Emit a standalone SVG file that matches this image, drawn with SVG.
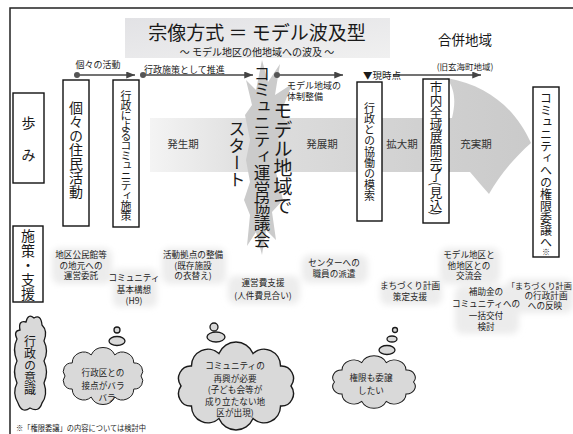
<svg xmlns="http://www.w3.org/2000/svg" width="573" height="434" viewBox="0 0 573 434">
<style>
text { font-family: 'Noto Sans CJK JP','Noto Sans CJK SC',sans-serif; fill:#1a1a1a; }
.v { writing-mode: vertical-rl; text-orientation: mixed; dominant-baseline: central; }
.box { fill:#fff; stroke:#111; stroke-width:1.4; }
.cloud { fill:#d9d9d9; stroke:#1a1a1a; stroke-width:1.3; }
.s { font-size:8.6px; text-anchor:middle; fill:#222; }
.per { font-size:10.5px; text-anchor:middle; fill:#333; }
.lbl { font-size:9px; fill:#222; }
.conn { stroke:#444; stroke-width:1.3; fill:none; }
.dot { fill:#555; }
.bg { fill:#ececec; }
.frame { stroke:#222; stroke-width:1.5; fill:none; }
</style>
<defs>
  <linearGradient id="band" gradientUnits="userSpaceOnUse" x1="150" y1="0" x2="531" y2="0">
    <stop offset="0" stop-color="#f4f4f4"/>
    <stop offset="0.25" stop-color="#dfdfdf"/>
    <stop offset="0.7" stop-color="#d1d1d1"/>
    <stop offset="1" stop-color="#cacaca"/>
  </linearGradient>
  <linearGradient id="title" x1="0" y1="0" x2="1" y2="1">
    <stop offset="0" stop-color="#e2e2e5"/>
    <stop offset="1" stop-color="#f0f0f0"/>
  </linearGradient>
  <marker id="ah" markerUnits="userSpaceOnUse" markerWidth="9" markerHeight="7" viewBox="0 0 10 8" refX="10" refY="4" orient="auto">
    <path d="M0,0 L10,4 L0,8 z" fill="#444"/>
  </marker>
  <filter id="blur" x="-20%" y="-20%" width="140%" height="140%"><feGaussianBlur stdDeviation="3"/></filter>
  <path id="cloudShape" d="M50,0 A11,11 0 0 1 40.5,17.6 A15,15 0 0 1 15.5,28.5 A17,17 0 0 1 -15.5,28.5 A15,15 0 0 1 -40.5,17.6 A11,11 0 0 1 -50,0 A11,11 0 0 1 -40.5,-17.6 A15,15 0 0 1 -15.5,-28.5 A17,17 0 0 1 15.5,-28.5 A15,15 0 0 1 40.5,-17.6 A11,11 0 0 1 50,0 Z"/>
</defs>

<rect x="0" y="0" width="573" height="434" fill="#fff"/>

<!-- frame -->
<path class="frame" d="M10,434 L10,8 L573,8"/>

<!-- title -->
<g id="title-block">
  <rect x="125" y="18" width="265" height="40" fill="url(#title)"/>
  <text x="257" y="40" font-size="19" text-anchor="middle">宗像方式 ＝ モデル波及型</text>
  <text x="257" y="55.5" font-size="10" text-anchor="middle" fill="#333">～ モデル地区の他地域への波及 ～</text>
</g>

<g id="merger-label">
  <text x="465" y="45" font-size="13.5" text-anchor="middle">合併地域</text>
  <text x="465" y="70" font-size="8.5" text-anchor="middle" fill="#333">(旧玄海町地域)</text>
</g>

<!-- big arrow band -->
<g id="progress-arrow">
  <path d="M150,118 L452,118 C456,102 455,90 447,78 C490,86 516,110 531,143 C514,158 499,176 489,194 C482,186 476,179 470,172 L150,172 Z" fill="url(#band)"/>
  <text class="per" x="183" y="148">発生期</text>
  <text class="per" x="322" y="148">発展期</text>
  <text class="per" x="402" y="148">拡大期</text>
  <text class="per" x="476" y="148">充実期</text>
</g>

<!-- start burst -->
<g id="start">
  <polygon points="262,60 268,82 280,64 275,95 292,84 280,115 290,125 278,140 286,160 276,172 283,200 272,212 276,240 266,230 262,255 256,232 247,246 250,215 244,200 250,182 246,160 250,140 245,115 252,105 246,80 256,90" fill="#cbcbcb"/>
  <text class="v" x="262" y="65" font-size="16.6">コミュニティ運営協議会</text>
  <text class="v" x="283" y="101" font-size="19">モデル地域で</text>
  <text class="v" x="237" y="120" font-size="17">スタート</text>
</g>

<!-- connectors -->
<g id="connectors">
  <line class="conn" x1="77" y1="75" x2="135" y2="75" marker-end="url(#ah)"/>
  <circle class="dot" cx="77" cy="75" r="3"/>
  <line class="conn" x1="143" y1="75" x2="253" y2="75" marker-end="url(#ah)"/>
  <circle class="dot" cx="143" cy="75" r="3"/>
  <line class="conn" x1="277" y1="75" x2="343" y2="75" marker-end="url(#ah)"/>
  <circle class="dot" cx="277" cy="75" r="3"/>
  <line class="conn" x1="393" y1="75" x2="481" y2="75" marker-end="url(#ah)"/>
  <text class="lbl" x="98" y="68" text-anchor="middle">個々の活動</text>
  <text class="lbl" x="144" y="73">行政施策として推進</text>
  <text class="lbl" x="287" y="89">モデル地域の</text>
  <text class="lbl" x="287" y="100">体制整備</text>
  <text x="363" y="79" font-size="9.5" fill="#222">▼現時点</text>
</g>

<!-- left labels -->
<g id="label-ayumi">
  <rect class="box" x="13" y="93" width="31" height="90"/>
  <text x="28.5" y="128" font-size="14" text-anchor="middle">歩</text>
  <text x="28.5" y="160" font-size="14" text-anchor="middle">み</text>
</g>
<g id="label-shisaku">
  <rect class="box" x="13" y="226" width="30" height="76"/>
  <text class="v" x="28" y="229" font-size="14" letter-spacing="0.5">施策・支援</text>
</g>

<!-- stage boxes -->
<g id="box-jumin">
  <rect class="box" x="63" y="80" width="26" height="146"/>
  <text class="v" x="76" y="101" font-size="14">個々の住民活動</text>
</g>
<g id="box-gyosei">
  <rect class="box" x="113" y="80" width="26" height="147"/>
  <text class="v" x="126" y="90" font-size="11" letter-spacing="-1">行政によるコミュニティ施策</text>
</g>
<g id="box-kyodo">
  <rect class="box" x="357" y="82" width="25" height="139"/>
  <text class="v" x="369.5" y="102" font-size="11">行政との協働の模索</text>
</g>
<g id="box-zeniki">
  <rect class="box" x="423" y="79" width="26" height="144"/>
  <text class="v" x="436" y="81" font-size="12.6">市内全域展開完了(見込)</text>
</g>
<g id="box-kengen">
  <rect class="box" x="533" y="87" width="26" height="170"/>
  <text class="v" x="546" y="92" font-size="12">コミュニティへの権限委譲へ<tspan font-size="8">※</tspan></text>
</g>

<!-- support measures -->
<g id="support-bg" filter="url(#blur)">
  <rect class="bg" x="52" y="248" width="60" height="36" rx="8"/>
  <rect class="bg" x="113" y="269" width="44" height="38" rx="6"/>
  <rect class="bg" x="162" y="248" width="64" height="36" rx="8"/>
  <rect class="bg" x="228" y="276" width="72" height="28" rx="8"/>
  <rect class="bg" x="302" y="255" width="66" height="28" rx="8"/>
  <rect class="bg" x="380" y="279" width="62" height="26" rx="8"/>
  <rect class="bg" x="440" y="248" width="60" height="36" rx="8"/>
  <rect class="bg" x="455" y="286" width="64" height="48" rx="8"/>
  <rect class="bg" x="506" y="279" width="67" height="34" rx="8"/>
</g>
<g id="support-1">
  <text class="s" x="81" y="258">地区公民館等</text>
  <text class="s" x="81" y="268.5">の地元への</text>
  <text class="s" x="81" y="279">運営委託</text>
</g>
<g id="support-2">
  <text class="s" x="134" y="281">コミュニティ</text>
  <text class="s" x="134" y="293">基本構想</text>
  <text class="s" x="134" y="304">(H9)</text>
</g>
<g id="support-3">
  <text class="s" x="193" y="258">活動拠点の整備</text>
  <text class="s" x="193" y="268.5">(既存施設</text>
  <text class="s" x="193" y="279">の衣替え)</text>
</g>
<g id="support-4">
  <text class="s" x="263" y="286">運営費支援</text>
  <text class="s" x="263" y="298.5">(人件費見合い)</text>
</g>
<g id="support-5">
  <text class="s" x="334" y="265.5">センターへの</text>
  <text class="s" x="334" y="276.5">職員の派遣</text>
</g>
<g id="support-6">
  <text class="s" x="410" y="289">まちづくり計画</text>
  <text class="s" x="410" y="300">策定支援</text>
</g>
<g id="support-7">
  <text class="s" x="469" y="258">モデル地区と</text>
  <text class="s" x="469" y="268.5">他地区との</text>
  <text class="s" x="469" y="279">交流会</text>
</g>
<g id="support-8">
  <text class="s" x="486" y="294.5">補助金の</text>
  <text class="s" x="486" y="306.5">コミュニティへの</text>
  <text class="s" x="486" y="319">一括交付</text>
  <text class="s" x="486" y="329.5">検討</text>
</g>
<g id="support-9">
  <text x="507" y="288.5" font-size="8.1" fill="#222">「まちづくり計画</text>
  <text class="s" x="546" y="298.5">の行政計画</text>
  <text class="s" x="545" y="308.5">への反映</text>
</g>

<!-- administration awareness -->
<g id="label-ishiki">
  <path class="cloud" d="M20,330 Q18,320 26,322 Q28,313 34,318 Q41,314 42,325 Q48,331 44,341 Q49,351 44,361 Q49,372 44,383 Q48,395 42,403 Q39,413 30,408 Q22,414 18,403 Q12,393 17,383 Q12,371 17,361 Q12,349 17,339 Q13,331 20,330 Z"/>
  <text class="v" x="30" y="335" font-size="12">行政の意識</text>
</g>
<g id="thought-1">
  <circle class="cloud" cx="117" cy="330" r="3"/>
  <ellipse class="cloud" cx="117" cy="341" rx="8" ry="4.5"/>
  <use href="#cloudShape" class="cloud" transform="translate(103,376) scale(0.76,0.74)"/>
  <text class="s" x="103" y="376" font-size="10">行政区との</text>
  <text class="s" x="103" y="389" font-size="10">接点がバラ</text>
  <text class="s" x="107" y="401" font-size="10">バラ</text>
</g>
<g id="thought-2">
  <circle class="cloud" cx="214" cy="327" r="4"/>
  <ellipse class="cloud" cx="216" cy="337" rx="9" ry="5"/>
  <use href="#cloudShape" class="cloud" transform="translate(236,386) scale(1.1,1.14)"/>
  <text class="s" x="235" y="369" font-size="9.3">コミュニティの</text>
  <text class="s" x="235" y="381.5" font-size="9.3">再興が必要</text>
  <text class="s" x="235" y="393" font-size="9.3">(子ども会等が</text>
  <text class="s" x="235" y="404.5" font-size="9.3">成り立たない地</text>
  <text class="s" x="235" y="415.5" font-size="9.3">区が出現)</text>
</g>
<g id="thought-3">
  <circle class="cloud" cx="395" cy="330" r="2.5"/>
  <ellipse class="cloud" cx="392" cy="339" rx="5" ry="3"/>
  <ellipse class="cloud" cx="387" cy="350" rx="8" ry="4.5"/>
  <use href="#cloudShape" class="cloud" transform="translate(374,382) scale(0.79,0.68)"/>
  <text class="s" x="371" y="381" font-size="10">権限も委譲</text>
  <text class="s" x="371" y="394" font-size="10">したい</text>
</g>

<text x="16" y="431" font-size="7.5" textLength="130" lengthAdjust="spacingAndGlyphs" fill="#222">※「権限委譲」の内容については検討中</text>
</svg>
